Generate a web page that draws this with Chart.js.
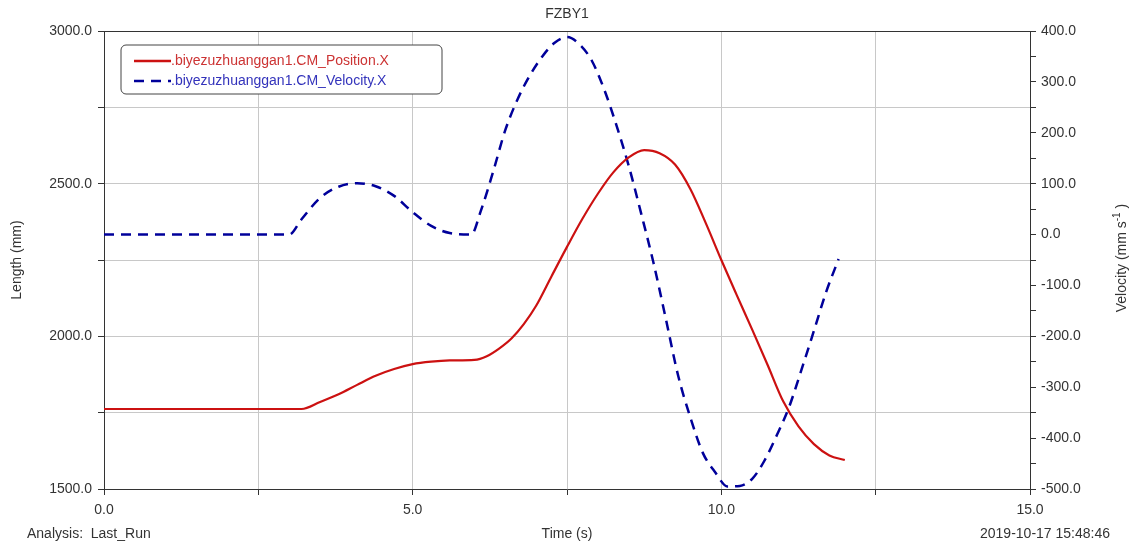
<!DOCTYPE html>
<html>
<head>
<meta charset="utf-8">
<script src="https://cdn.jsdelivr.net/npm/chart.js@4.4.0/dist/chart.umd.min.js"></script>
<style>
html,body{margin:0;padding:0;background:#fff;}
#wrap{width:1137px;height:544px;position:relative;}
</style>
</head>
<body>
<div id="wrap"><canvas id="c" width="1137" height="544"></canvas></div>
<script>
// ---- data ----
const chartTitle = "FZBY1";
const positionLabel = ".biyezuzhuanggan1.CM_Position.X";
const velocityLabel = ".biyezuzhuanggan1.CM_Velocity.X";

const positionTime = [0, 1, 2, 3.2, 3.5, 3.8, 4.1, 4.4, 4.7, 5.0, 5.3, 5.6, 6.0, 6.2, 6.4, 6.6, 6.8, 7.0, 7.25, 7.5, 7.75, 8.0, 8.25, 8.5, 8.75, 9.0, 9.25, 9.5, 9.75, 10.0, 10.25, 10.5, 10.75, 11.0, 11.25, 11.5, 11.75, 12.0];
const positionValues = [1762, 1762, 1762, 1762, 1785, 1810, 1841, 1871, 1893, 1909, 1917, 1921, 1923, 1935, 1960, 1993, 2040, 2100, 2197, 2293, 2385, 2467, 2537, 2586, 2610, 2600, 2563, 2482, 2370, 2250, 2135, 2022, 1906, 1788, 1705, 1647, 1610, 1595];

const velocityTime = [0, 1, 2, 3.0, 3.2, 3.5, 3.8, 4.1, 4.4, 4.7, 5.0, 5.3, 5.6, 5.95, 6.1, 6.3, 6.5, 6.7, 6.9, 7.1, 7.3, 7.5, 7.7, 7.9, 8.1, 8.3, 8.5, 8.7, 8.9, 9.1, 9.3, 9.5, 9.7, 9.9, 10.1, 10.3, 10.5, 10.7, 10.9, 11.1, 11.3, 11.5, 11.7, 11.9];
const velocityValues = [0, 0, 0, 0, 30, 72, 94, 101, 95, 76, 44, 17, 3, 0, 45, 122, 205, 266, 313, 350, 377, 388, 374, 342, 286, 215, 135, 42, -55, -165, -277, -360, -429, -467, -495, -494, -480, -444, -394, -338, -265, -189, -112, -48];

const leftAxisTitle = "Length (mm)";
const rightAxisTitle = "Velocity (mm s";
const rightAxisSup = "-1";
const bottomAxisTitle = "Time (s)";
const footLeft = "Analysis:  Last_Run";
const footRight = "2019-10-17 15:48:46";

// ---- styles ----
const FONT = '"Liberation Sans", Arial, sans-serif';
const RED = '#cc1111';
const BLUE = '#00009a';
const TXT = '#333333';

const posData = positionTime.map((t, i) => ({x: t, y: positionValues[i]}));
const velData = velocityTime.map((t, i) => ({x: t, y: velocityValues[i]}));

const decorPlugin = {
  id: 'decor',
  afterDraw(chart) {
    const ctx = chart.ctx;
    const a = chart.chartArea;
    ctx.save();
    // top frame line
    ctx.strokeStyle = '#333';
    ctx.lineWidth = 1;
    ctx.beginPath();
    ctx.moveTo(a.left, a.top + 0.5);
    ctx.lineTo(a.right, a.top + 0.5);
    ctx.stroke();

    ctx.fillStyle = TXT;
    ctx.font = '14px ' + FONT;
    ctx.textBaseline = 'middle';
    // title
    ctx.textAlign = 'center';
    ctx.fillText(chartTitle, (a.left + a.right) / 2, 14);
    // bottom texts
    ctx.fillText(bottomAxisTitle, (a.left + a.right) / 2, 534);
    ctx.textAlign = 'left';
    ctx.fillText(footLeft, 27, 534);
    ctx.textAlign = 'right';
    ctx.fillText(footRight, 1110, 534);

    // left axis title
    ctx.save();
    ctx.translate(17, 260);
    ctx.rotate(-Math.PI / 2);
    ctx.textAlign = 'center';
    ctx.fillText(leftAxisTitle, 0, 0);
    ctx.restore();

    // right axis title with superscript
    ctx.save();
    ctx.translate(1122, 258);
    ctx.rotate(-Math.PI / 2);
    ctx.font = '14px ' + FONT;
    const w1 = ctx.measureText(rightAxisTitle).width;
    ctx.font = '10px ' + FONT;
    const w2 = ctx.measureText(rightAxisSup).width;
    ctx.font = '14px ' + FONT;
    const w3 = ctx.measureText(' )').width;
    let x0 = -(w1 + w2 + w3) / 2;
    ctx.textAlign = 'left';
    ctx.fillText(rightAxisTitle, x0, 0);
    ctx.font = '10px ' + FONT;
    ctx.fillText(rightAxisSup, x0 + w1, -5);
    ctx.font = '14px ' + FONT;
    ctx.fillText(' )', x0 + w1 + w2, 0);
    ctx.restore();

    // legend box
    const bx = 121, by = 45, bw = 321, bh = 49, r = 5;
    ctx.beginPath();
    ctx.moveTo(bx + r, by);
    ctx.lineTo(bx + bw - r, by);
    ctx.arcTo(bx + bw, by, bx + bw, by + r, r);
    ctx.lineTo(bx + bw, by + bh - r);
    ctx.arcTo(bx + bw, by + bh, bx + bw - r, by + bh, r);
    ctx.lineTo(bx + r, by + bh);
    ctx.arcTo(bx, by + bh, bx, by + bh - r, r);
    ctx.lineTo(bx, by + r);
    ctx.arcTo(bx, by, bx + r, by, r);
    ctx.closePath();
    ctx.fillStyle = '#fff';
    ctx.fill();
    ctx.strokeStyle = '#444';
    ctx.lineWidth = 1;
    ctx.stroke();

    const ds = chart.data.datasets;
    const rows = [61, 81];
    ds.forEach((d, i) => {
      ctx.strokeStyle = d.borderColor;
      ctx.lineWidth = 2.5;
      ctx.setLineDash(d.borderDash || []);
      ctx.beginPath();
      ctx.moveTo(134, rows[i]);
      ctx.lineTo(171, rows[i]);
      ctx.stroke();
      ctx.setLineDash([]);
      ctx.fillStyle = i === 0 ? '#cc3333' : '#3333bb';
      ctx.font = '14px ' + FONT;
      ctx.textAlign = 'left';
      ctx.textBaseline = 'middle';
      ctx.fillText(d.label, 171, rows[i]);
    });
    ctx.restore();
  }
};

new Chart(document.getElementById('c'), {
  type: 'line',
  data: {
    datasets: [
      {
        label: positionLabel,
        data: posData,
        yAxisID: 'yL',
        borderColor: RED,
        borderWidth: 2.2,
        pointRadius: 0,
        cubicInterpolationMode: 'monotone',
        fill: false
      },
      {
        label: velocityLabel,
        data: velData,
        yAxisID: 'yR',
        borderColor: BLUE,
        borderWidth: 2.5,
        borderDash: [10, 7],
        pointRadius: 0,
        cubicInterpolationMode: 'monotone',
        fill: false
      }
    ]
  },
  options: {
    responsive: false,
    animation: false,
    devicePixelRatio: 1,
    layout: {padding: {top: 31, left: 0, right: 0, bottom: 0}},
    plugins: {legend: {display: false}, tooltip: {enabled: false}, title: {display: false}},
    scales: {
      x: {
        type: 'linear',
        min: 0, max: 15,
        afterFit(s) { s.height = 55; },
        grid: {color: '#c8c8c8', tickColor: '#333', tickLength: 6, drawOnChartArea: true},
        border: {display: true, color: '#333', width: 1},
        ticks: {
          stepSize: 2.5, autoSkip: false, maxRotation: 0, padding: 7,
          color: TXT, font: {family: FONT, size: 14},
          callback: v => (Math.abs(v % 5) < 1e-9 ? v.toFixed(1) : '')
        }
      },
      yL: {
        type: 'linear', position: 'left',
        min: 1500, max: 3000,
        afterFit(s) { s.width = 104; },
        grid: {color: '#c8c8c8', tickColor: '#333', tickLength: 6},
        border: {display: true, color: '#333', width: 1},
        ticks: {
          stepSize: 250, autoSkip: false, padding: 6,
          color: TXT, font: {family: FONT, size: 14},
          callback: v => (v % 500 === 0 ? v.toFixed(1) : '')
        }
      },
      yR: {
        type: 'linear', position: 'right',
        min: -500, max: 400,
        afterFit(s) { s.width = 107; },
        grid: {drawOnChartArea: false, tickColor: '#333', tickLength: 6},
        border: {display: true, color: '#333', width: 1},
        ticks: {
          stepSize: 50, autoSkip: false, padding: 5,
          color: TXT, font: {family: FONT, size: 14},
          callback: v => (v % 100 === 0 ? v.toFixed(1) : '')
        }
      }
    }
  },
  plugins: [decorPlugin]
});
</script>
</body>
</html>
